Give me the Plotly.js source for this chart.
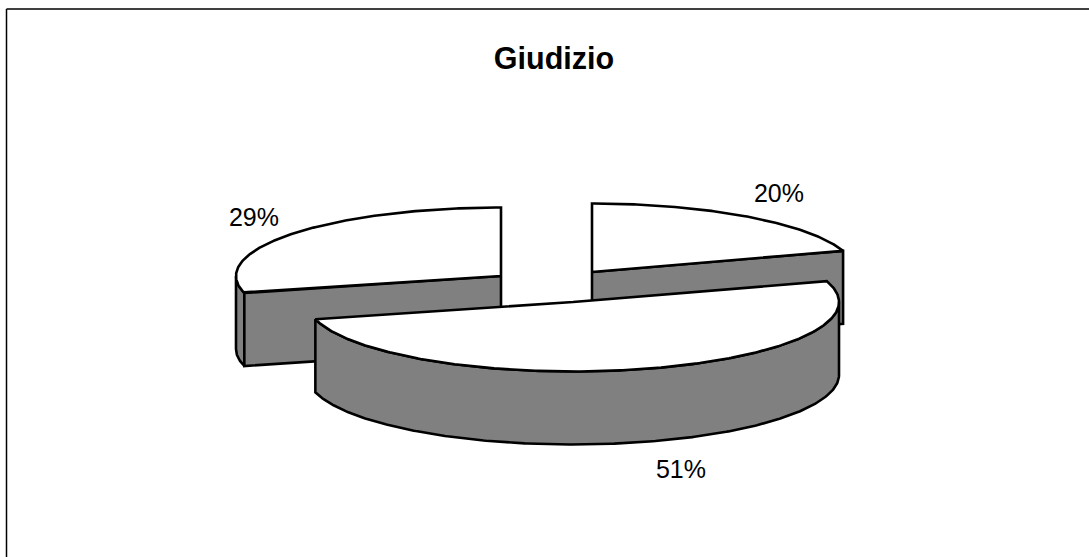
<!DOCTYPE html>
<html>
<head>
<meta charset="utf-8">
<script src="https://cdn.plot.ly/plotly-3.0.1.min.js"></script>
<style>html,body{margin:0;padding:0;background:#fff}#chart{width:1089px;height:557px}</style>
</head>
<body>
<div id="chart"></div>
<script>
// Data
const categories = ["A", "B", "C"];
const sliceValues = [20, 51, 29];
const sliceLabels = ["20%", "51%", "29%"];
const chartTitle = "Giudizio";

// Projection of the tilted, exploded pie (drawing geometry, in plot units)
const centerX = [592, 573, 501];
const centerY = [272, 302, 276];
const radiusXs = [264, 266, 265];
const radiusYs = [68.5, 69.5, 68.5];
const depth = 73;
const labelX = [779, 681, 254];
const labelY = [196, 472, 220];
const lineW = 2.6, topColor = "#ffffff", sideColor = "#808080";

(function () {
const total = sliceValues.reduce((a, b) => a + b, 0);
let cum = 0;
const slices = sliceValues.map((v, i) => {
  const a0 = cum / total * 2 * Math.PI; cum += v;
  const a1 = cum / total * 2 * Math.PI;
  return {a0, a1, cx: centerX[i], cy: centerY[i], rx: radiusXs[i], ry: radiusYs[i]};
});
const rim = (s, a, dy) => [s.cx + s.rx * Math.sin(a), s.cy - s.ry * Math.cos(a) + (dy || 0)];
function arc(s, a0, a1, dy) {
  const n = Math.max(2, Math.ceil(Math.abs(a1 - a0) / 0.01)), pts = [];
  for (let k = 0; k <= n; k++) pts.push(rim(s, a0 + (a1 - a0) * k / n, dy));
  return pts;
}
function poly(pts, color) {
  const closed = pts.concat([pts[0]]);
  return {type: "scatter", mode: "lines", x: closed.map(p => p[0]), y: closed.map(p => p[1]),
    fill: "toself", fillcolor: color, line: {color: "#000", width: lineW, shape: "linear"},
    hoverinfo: "skip", showlegend: false};
}
function wall(s, a0, a1) {
  return poly(arc(s, a0, a1, 0).concat(arc(s, a1, a0, depth)), sideColor);
}
function radialFace(s, a) {
  const p = rim(s, a, 0), q = rim(s, a, depth);
  return poly([[s.cx, s.cy], p, q, [s.cx, s.cy + depth]], sideColor);
}
function topFace(s) {
  return poly([[s.cx, s.cy]].concat(arc(s, s.a0, s.a1, 0)), topColor);
}
const traces = [];
// back slices first, the large front slice last
[2, 0].forEach(i => {
  const s = slices[i];
  if (i === 2) { traces.push(wall(s, s.a0, 1.5 * Math.PI)); traces.push(radialFace(s, s.a0)); }
  else { traces.push(radialFace(s, s.a1)); }
  traces.push(topFace(s));
});
const f = slices[1];
traces.push(wall(f, 0.5 * Math.PI, f.a1));
traces.push(topFace(f));
traces.push({type: "scatter", mode: "text", x: labelX, y: labelY, text: sliceLabels,
  textposition: "middle center", textfont: {family: "Liberation Sans, Arial, sans-serif", size: 25, color: "#000"},
  hoverinfo: "skip", showlegend: false, cliponaxis: false});

const hidden = {visible: false, fixedrange: true};
Plotly.newPlot("chart", traces, {
  width: 1089, height: 557,
  margin: {l: 0, r: 0, t: 0, b: 0},
  paper_bgcolor: "#fff", plot_bgcolor: "#fff", showlegend: false,
  title: {text: "<b>" + chartTitle + "</b>", x: 554 / 1089, xanchor: "center", y: 1 - 58 / 557, yanchor: "middle",
    font: {family: "Liberation Sans, Arial, sans-serif", size: 30.5, color: "#000"}},
  xaxis: Object.assign({range: [0, 1089]}, hidden),
  yaxis: Object.assign({range: [557, 0]}, hidden),
  shapes: [
    {type: "line", xref: "x", yref: "y", x0: 6.5, y0: 9, x1: 1089, y1: 9, line: {color: "#000", width: 1.5}},
    {type: "line", xref: "x", yref: "y", x0: 6.5, y0: 9, x1: 6.5, y1: 557, line: {color: "#000", width: 1.5}}
  ]
}, {displayModeBar: false, staticPlot: true});
})();
</script>
</body>
</html>
